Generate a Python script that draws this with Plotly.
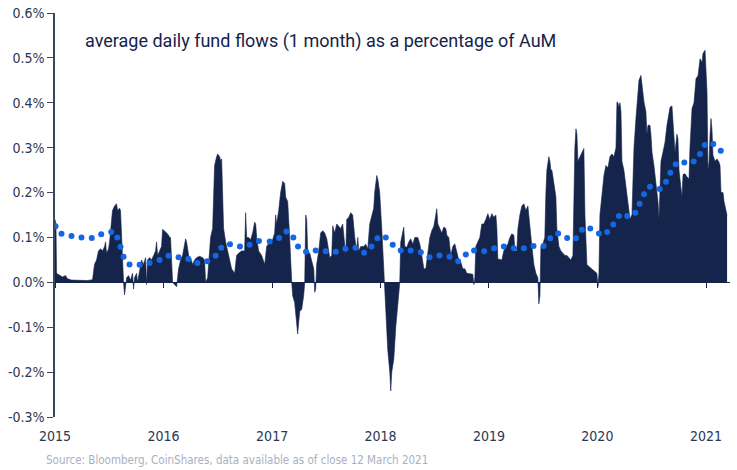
import numpy as np
import pandas as pd
import plotly.graph_objects as go

# ---- data: 1-month average daily fund flows as % of AuM (decimal year, %) ----
flow_year = [
    2015.000, 2015.009, 2015.014, 2015.042, 2015.069, 2015.097, 2015.115, 2015.152, 2015.226, 2015.300,
    2015.346, 2015.364, 2015.383, 2015.401, 2015.420, 2015.438, 2015.457, 2015.466, 2015.475, 2015.494,
    2015.503, 2015.521, 2015.530, 2015.549, 2015.567, 2015.577, 2015.595, 2015.604, 2015.613, 2015.623,
    2015.632, 2015.641, 2015.650, 2015.660, 2015.678, 2015.696, 2015.715, 2015.724, 2015.733, 2015.752,
    2015.761, 2015.780, 2015.798, 2015.816, 2015.835, 2015.844, 2015.853, 2015.872, 2015.890, 2015.909,
    2015.927, 2015.936, 2015.946, 2015.964, 2015.982, 2015.992, 2016.010, 2016.029, 2016.047, 2016.056,
    2016.065, 2016.075, 2016.084, 2016.102, 2016.121, 2016.130, 2016.139, 2016.158, 2016.176, 2016.195,
    2016.204, 2016.213, 2016.232, 2016.250, 2016.268, 2016.287, 2016.305, 2016.333, 2016.361, 2016.379,
    2016.388, 2016.407, 2016.416, 2016.434, 2016.453, 2016.462, 2016.471, 2016.490, 2016.499, 2016.518,
    2016.527, 2016.536, 2016.545, 2016.554, 2016.573, 2016.591, 2016.610, 2016.628, 2016.656, 2016.674,
    2016.693, 2016.720, 2016.748, 2016.757, 2016.767, 2016.785, 2016.803, 2016.822, 2016.840, 2016.850,
    2016.859, 2016.877, 2016.905, 2016.933, 2016.951, 2016.979, 2017.006, 2017.025, 2017.034, 2017.043,
    2017.062, 2017.080, 2017.099, 2017.117, 2017.126, 2017.145, 2017.163, 2017.172, 2017.182, 2017.191,
    2017.209, 2017.219, 2017.228, 2017.237, 2017.246, 2017.256, 2017.274, 2017.292, 2017.302, 2017.311,
    2017.320, 2017.329, 2017.348, 2017.366, 2017.385, 2017.394, 2017.403, 2017.412, 2017.431, 2017.449,
    2017.468, 2017.486, 2017.505, 2017.523, 2017.532, 2017.551, 2017.560, 2017.578, 2017.597, 2017.615,
    2017.634, 2017.652, 2017.671, 2017.680, 2017.689, 2017.708, 2017.726, 2017.744, 2017.763, 2017.781,
    2017.791, 2017.800, 2017.818, 2017.846, 2017.864, 2017.883, 2017.901, 2017.920, 2017.938, 2017.947,
    2017.966, 2017.975, 2017.993, 2018.012, 2018.030, 2018.040, 2018.049, 2018.067, 2018.086, 2018.095,
    2018.104, 2018.123, 2018.141, 2018.160, 2018.178, 2018.187, 2018.206, 2018.215, 2018.224, 2018.243,
    2018.261, 2018.279, 2018.298, 2018.316, 2018.344, 2018.363, 2018.381, 2018.400, 2018.418, 2018.436,
    2018.455, 2018.473, 2018.492, 2018.510, 2018.519, 2018.529, 2018.547, 2018.565, 2018.584, 2018.602,
    2018.612, 2018.630, 2018.648, 2018.667, 2018.685, 2018.704, 2018.722, 2018.741, 2018.759, 2018.778,
    2018.796, 2018.824, 2018.851, 2018.861, 2018.870, 2018.879, 2018.898, 2018.916, 2018.934, 2018.953,
    2018.971, 2018.990, 2019.008, 2019.027, 2019.045, 2019.064, 2019.073, 2019.082, 2019.119, 2019.137,
    2019.156, 2019.174, 2019.193, 2019.211, 2019.230, 2019.239, 2019.257, 2019.267, 2019.285, 2019.303,
    2019.322, 2019.340, 2019.359, 2019.377, 2019.396, 2019.414, 2019.433, 2019.451, 2019.460, 2019.470,
    2019.479, 2019.497, 2019.515, 2019.525, 2019.534, 2019.552, 2019.562, 2019.571, 2019.580, 2019.599,
    2019.617, 2019.626, 2019.645, 2019.663, 2019.682, 2019.700, 2019.719, 2019.737, 2019.755, 2019.774,
    2019.783, 2019.792, 2019.802, 2019.811, 2019.820, 2019.839, 2019.857, 2019.875, 2019.885, 2019.903,
    2019.922, 2019.949, 2019.977, 2019.995, 2020.005, 2020.014, 2020.023, 2020.042, 2020.060, 2020.078,
    2020.097, 2020.115, 2020.134, 2020.152, 2020.171, 2020.180, 2020.189, 2020.198, 2020.208, 2020.217,
    2020.226, 2020.244, 2020.263, 2020.281, 2020.300, 2020.318, 2020.327, 2020.337, 2020.355, 2020.364,
    2020.383, 2020.401, 2020.410, 2020.429, 2020.447, 2020.456, 2020.466, 2020.484, 2020.493, 2020.503,
    2020.521, 2020.540, 2020.558, 2020.567, 2020.576, 2020.586, 2020.604, 2020.623, 2020.641, 2020.659,
    2020.669, 2020.687, 2020.696, 2020.715, 2020.733, 2020.742, 2020.752, 2020.770, 2020.779, 2020.789,
    2020.807, 2020.825, 2020.844, 2020.853, 2020.872, 2020.890, 2020.909, 2020.927, 2020.946, 2020.964,
    2020.973, 2020.992, 2021.001, 2021.010, 2021.019, 2021.029, 2021.038, 2021.047, 2021.056, 2021.065,
    2021.084, 2021.102, 2021.120, 2021.130, 2021.139, 2021.158, 2021.167, 2021.185, 2021.195,
]
flow_pct = [
    0.14, 0.13, 0.02, 0.015, 0.012, 0.015, 0.008, 0.005, 0.004, 0.004,
    0.006, 0.04, 0.05, 0.07, 0.075, 0.07, 0.08, 0.09, 0.065, 0.075,
    0.09, 0.14, 0.16, 0.17, 0.175, 0.16, 0.165, 0.16, 0.10, 0.05,
    0.0, -0.028, 0.0, 0.01, 0.015, 0.005, 0.02, -0.015, 0.01, 0.02,
    0.0, 0.03, 0.05, 0.04, 0.055, -0.005, 0.05, 0.055, 0.05, 0.06,
    0.07, 0.09, 0.06, 0.07, 0.08, 0.118, 0.115, 0.11, 0.105, 0.10,
    0.10, 0.06, 0.0, -0.005, -0.01, 0.01, 0.03, 0.05, 0.06, 0.085,
    0.097, 0.09, 0.06, 0.055, 0.04, 0.05, 0.055, 0.058, 0.055, 0.05,
    0.0, 0.01, 0.05, 0.10, 0.12, 0.20, 0.26, 0.28, 0.286, 0.28,
    0.27, 0.275, 0.20, 0.12, 0.09, 0.07, 0.05, 0.03, 0.02, 0.06,
    0.065, 0.07, 0.07, 0.155, 0.10, 0.10, 0.095, 0.11, 0.134, 0.13,
    0.10, 0.07, 0.06, 0.04, 0.08, 0.09, 0.095, 0.11, 0.15, 0.13,
    0.16, 0.20, 0.225, 0.22, 0.19, 0.18, 0.10, 0.03, 0.0, -0.03,
    -0.045, -0.07, -0.09, -0.115, -0.09, -0.065, -0.06, -0.03, 0.0, 0.15,
    0.14, 0.07, 0.065, 0.05, 0.03, -0.022, -0.015, 0.04, 0.07, 0.11,
    0.115, 0.11, 0.097, 0.07, 0.055, 0.06, 0.126, 0.11, 0.13, 0.125,
    0.12, 0.13, 0.09, 0.06, 0.14, 0.145, 0.155, 0.15, 0.10, 0.07,
    0.10, 0.07, 0.08, 0.08, 0.085, 0.075, 0.13, 0.15, 0.165, 0.20,
    0.238, 0.23, 0.20, 0.12, 0.03, 0.0, -0.05, -0.149, -0.20, -0.242,
    -0.20, -0.171, -0.10, -0.04, 0.0, 0.09, 0.11, 0.123, 0.08, 0.078,
    0.09, 0.097, 0.085, 0.10, 0.10, 0.085, 0.06, 0.03, 0.03, 0.07,
    0.10, 0.115, 0.125, 0.15, 0.164, 0.13, 0.12, 0.11, 0.123, 0.12,
    0.105, 0.10, 0.06, 0.08, 0.086, 0.07, 0.05, 0.045, 0.03, 0.03,
    0.02, 0.019, 0.018, -0.005, 0.01, 0.08, 0.09, 0.10, 0.13, 0.13,
    0.14, 0.153, 0.14, 0.153, 0.145, 0.15, 0.12, 0.052, 0.05, 0.07,
    0.08, 0.085, 0.10, 0.108, 0.105, 0.07, 0.07, 0.12, 0.15, 0.17,
    0.175, 0.16, 0.17, 0.12, 0.08, 0.04, 0.02, 0.01, -0.048, -0.03,
    0.08, 0.085, 0.10, 0.20, 0.25, 0.28, 0.27, 0.25, 0.25, 0.22,
    0.19, 0.12, 0.08, 0.07, 0.065, 0.06, 0.06, 0.055, 0.05, 0.06,
    0.20, 0.30, 0.342, 0.33, 0.27, 0.28, 0.29, 0.298, 0.15, 0.04,
    0.035, 0.03, 0.025, 0.02, -0.01, 0.02, 0.15, 0.20, 0.238, 0.26,
    0.255, 0.28, 0.286, 0.28, 0.30, 0.402, 0.40, 0.39, 0.40, 0.38,
    0.27, 0.25, 0.216, 0.18, 0.141, 0.15, 0.25, 0.30, 0.365, 0.394,
    0.45, 0.461, 0.44, 0.402, 0.38, 0.33, 0.35, 0.35, 0.33, 0.29,
    0.26, 0.216, 0.18, 0.141, 0.20, 0.27, 0.29, 0.312, 0.35, 0.372,
    0.39, 0.393, 0.36, 0.29, 0.33, 0.32, 0.25, 0.20, 0.19, 0.24,
    0.242, 0.235, 0.23, 0.30, 0.387, 0.40, 0.454, 0.46, 0.498, 0.49,
    0.51, 0.517, 0.45, 0.424, 0.25, 0.27, 0.33, 0.365, 0.34, 0.283,
    0.27, 0.275, 0.268, 0.26, 0.20, 0.20, 0.18, 0.16, 0.149,
]

# ---- data: smoothed trend (dotted blue line) ----
trend_year = [
    2015.005, 2015.060, 2015.152, 2015.244, 2015.339, 2015.426, 2015.518, 2015.574, 2015.604, 2015.632,
    2015.687, 2015.780, 2015.872, 2015.964, 2016.047, 2016.139, 2016.229, 2016.312, 2016.404, 2016.481,
    2016.533, 2016.613, 2016.705, 2016.794, 2016.880, 2016.979, 2017.065, 2017.133, 2017.197, 2017.240,
    2017.314, 2017.403, 2017.495, 2017.588, 2017.677, 2017.769, 2017.849, 2017.917, 2017.972, 2018.049,
    2018.113, 2018.187, 2018.279, 2018.372, 2018.452, 2018.544, 2018.637, 2018.716, 2018.787, 2018.863,
    2018.956, 2019.048, 2019.137, 2019.230, 2019.322, 2019.411, 2019.504, 2019.565, 2019.638, 2019.721,
    2019.802, 2019.857, 2019.934, 2020.014, 2020.090, 2020.146, 2020.198, 2020.275, 2020.349, 2020.389,
    2020.429, 2020.484, 2020.574, 2020.632, 2020.672, 2020.721, 2020.801, 2020.887, 2020.946, 2020.989,
    2021.068, 2021.137,
]
trend_pct = [
    0.125, 0.108, 0.103, 0.100, 0.099, 0.107, 0.112, 0.100, 0.079, 0.057,
    0.040, 0.039, 0.043, 0.050, 0.059, 0.056, 0.052, 0.043, 0.047, 0.059,
    0.077, 0.085, 0.080, 0.084, 0.092, 0.091, 0.099, 0.113, 0.100, 0.080,
    0.068, 0.071, 0.069, 0.068, 0.075, 0.077, 0.066, 0.080, 0.098, 0.100,
    0.084, 0.071, 0.071, 0.067, 0.056, 0.060, 0.057, 0.047, 0.062, 0.071,
    0.069, 0.076, 0.080, 0.076, 0.076, 0.081, 0.081, 0.098, 0.109, 0.099,
    0.098, 0.117, 0.120, 0.109, 0.112, 0.129, 0.148, 0.148, 0.155, 0.175,
    0.196, 0.213, 0.208, 0.224, 0.244, 0.263, 0.267, 0.269, 0.286, 0.306,
    0.308, 0.293,
]

y_ticks = [-0.3, -0.2, -0.1, 0.0, 0.1, 0.2, 0.3, 0.4, 0.5, 0.6]
title_text = "average daily fund flows (1 month) as a percentage of AuM"
source_text = "Source: Bloomberg, CoinShares, data available as of close 12 March 2021"

# ---- helpers ----
START = pd.Timestamp("2015-01-01")


def to_dates(years):
    yrs = np.asarray(years, dtype=float)
    return START + pd.to_timedelta((yrs - 2015.0) * 365.25, unit="D")


NAVY = "#15244a"
BLUE = "#1466e3"
AXIS_TXT = "#2c3752"
NARROW = "Liberation Sans Narrow, DejaVu Sans Condensed, Arial Narrow, sans-serif"

fig = go.Figure()
fig.add_trace(go.Scatter(
    x=to_dates(flow_year), y=flow_pct, mode="lines", fill="tozeroy",
    line=dict(color=NAVY, width=0.6), fillcolor=NAVY, hoverinfo="skip",
    showlegend=False, xaxis="x", yaxis="y",
))
fig.add_trace(go.Scatter(
    x=to_dates(trend_year), y=trend_pct, mode="markers",
    marker=dict(color=BLUE, size=6, line=dict(width=0)),
    showlegend=False, xaxis="x2", yaxis="y",
))

x_end = to_dates([2021.222])[0]

fig.update_layout(
    width=737, height=470,
    margin=dict(l=55, r=7, t=13, b=53, autoexpand=False),
    paper_bgcolor="white", plot_bgcolor="white",
    xaxis=dict(
        range=[START, x_end], type="date", tickformat="%Y", dtick="M12",
        tick0="2015-01-01", ticks="", showline=False, showgrid=False,
        zeroline=False, automargin=False, ticklabelstandoff=9,
        tickfont=dict(family=NARROW, size=14, color=AXIS_TXT),
    ),
    xaxis2=dict(
        matches="x", overlaying="x", anchor="free", position=1 / 3,
        type="date", dtick="M12", tick0="2015-01-01", ticks="outside",
        ticklen=5, tickwidth=1, tickcolor=NAVY, showticklabels=False,
        showline=True, linecolor=NAVY, linewidth=1, showgrid=False,
        zeroline=False, automargin=False,
    ),
    yaxis=dict(
        range=[-0.3, 0.6], tickvals=y_ticks,
        ticktext=[f"{v:.1f}%" for v in y_ticks],
        ticks="outside", ticklen=6, tickwidth=1, tickcolor="#3a4560",
        showline=True, linecolor="#3a4560", linewidth=1.5,
        showgrid=False, zeroline=False, automargin=False,
        tickfont=dict(family=NARROW, size=14, color=AXIS_TXT),
    ),
    annotations=[
        dict(text=title_text, xref="paper", yref="paper", x=0.042, y=0.93,
             xanchor="left", yanchor="middle", showarrow=False,
             font=dict(family="Roboto, sans-serif", size=18, color=NAVY)),
        dict(text=source_text, xref="paper", yref="paper", x=-0.016, y=-0.107,
             xanchor="left", yanchor="middle", showarrow=False,
             font=dict(family=NARROW, size=11.5, color="#a9b0c0")),
    ],
)

fig.write_html(
    "out.html",
    config={"displayModeBar": False},
    post_script="document.body.style.margin='0';document.body.style.padding='0';",
)
